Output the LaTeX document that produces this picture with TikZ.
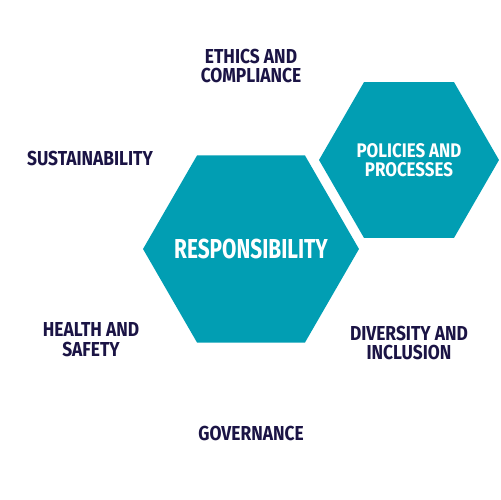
\documentclass[tikz,border=0pt]{standalone}
\usepackage{fontspec}
\usetikzlibrary{shapes.geometric}
\newfontfamily\hexfont[FakeStretch=0.76]{Fira Sans}
\newfontfamily\areafont[FakeStretch=0.86]{Fira Sans}
\definecolor{hexteal}{HTML}{019EB3}
\definecolor{labelnavy}{HTML}{1B1445}
\tikzset{
  hexagon/.style={regular polygon, regular polygon sides=6, fill=hexteal, inner sep=0pt, outer sep=0pt},
  hextext/.style={text=white, align=center, inner sep=0pt},
  area/.style={text=labelnavy, align=center, font=\areafont\bfseries\fontsize{11.5}{11.3}\selectfont, inner sep=0pt}
}
\begin{document}
\begin{tikzpicture}[x=0.02cm, y=0.02cm]
    \useasboundingbox (0,0) rectangle (500,500);
    \node[hexagon, minimum size=4.32cm] (resp) at (251,251) {};
    \node[hextext, font=\hexfont\bfseries\fontsize{15.6}{16}\selectfont] (resptext) at (resp.center) {RESPONSIBILITY};
    \node[hexagon, minimum size=3.6cm] (policies) at (409,340) {};
    \node[hextext, font=\areafont\bfseries\fontsize{11.2}{10.8}\selectfont] (policiestext) at (policies.center) {POLICIES AND\\PROCESSES};
    \node[area] (ethics) at (251,434) {ETHICS AND\\COMPLIANCE};
    \node[area] (sustain) at (90,341) {SUSTAINABILITY};
    \node[area] (health) at (91,160) {HEALTH AND\\SAFETY};
    \node[area] (diversity) at (409,157) {DIVERSITY AND\\INCLUSION};
    \node[area] (gov) at (251,67) {GOVERNANCE};
\end{tikzpicture}
\end{document}
